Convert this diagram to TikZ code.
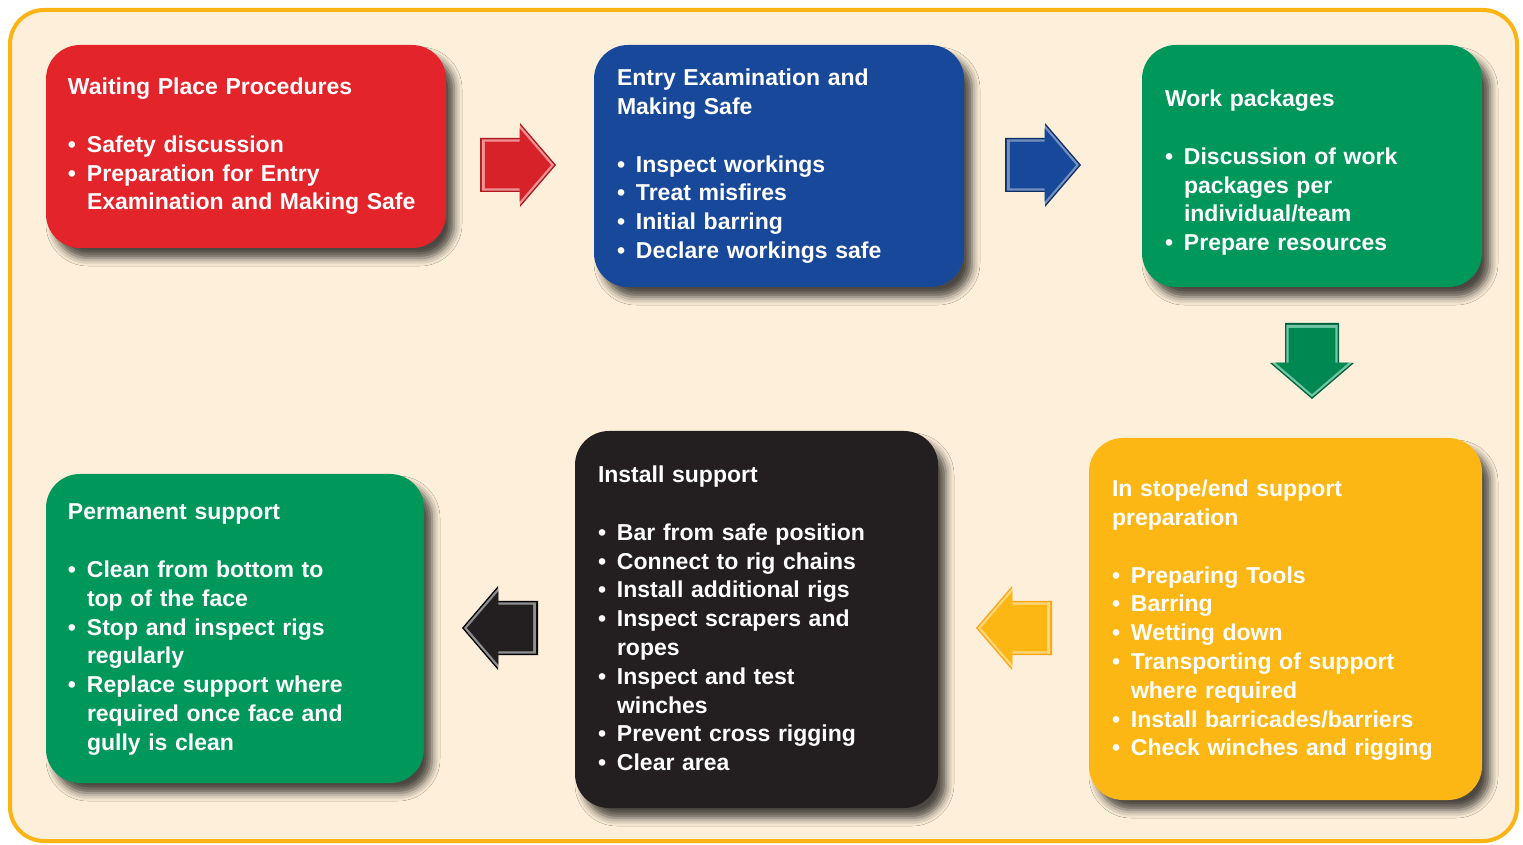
\documentclass[tikz,border=0pt]{standalone}
\usepackage{fontspec}
\setmainfont{Liberation Sans}
\usetikzlibrary{fit,shadows.blur}

\definecolor{cream}{HTML}{FDEFD9}
\definecolor{rimorange}{HTML}{FCB415}
\definecolor{wpred}{HTML}{E3242B}
\definecolor{wpblue}{HTML}{18489A}
\definecolor{wpgreen}{HTML}{00975B}
\definecolor{wpyellow}{HTML}{FDB714}
\definecolor{wpblack}{HTML}{231F20}

\newcommand\bitem{\par\hangindent=9.5pt\hangafter=1\noindent\makebox[9.5pt][l]{\textbullet}}
\newcommand\gap{\par\vspace{14.4pt}}

\tikzset{
  panel/.style={rounded corners=17pt, inner sep=0pt,
    blur shadow={shadow xshift=4pt, shadow yshift=-5pt, shadow blur radius=4pt, shadow opacity=70}},
  paneltext/.style={anchor=north west, inner sep=0pt, text=white, align=left,
    text width=#1, font=\fontsize{11.5}{14.4}\selectfont\bfseries},
  pics/blockarrow/.style n args={3}{code={
    \fill[#2] (-38,-27) -- (2,-27) -- (2,-42) -- (38,0)
      -- (2,42) -- (2,27) -- (-38,27) -- cycle;
    \fill[#3, scale=0.95] (-38,-27) -- (2,-27) -- (2,-42) -- (38,0)
      -- (2,42) -- (2,27) -- (-38,27) -- cycle;
    \fill[#1, scale=0.87] (-38,-27) -- (2,-27) -- (2,-42) -- (38,0)
      -- (2,42) -- (2,27) -- (-38,27) -- cycle;
  }}
}

\begin{document}
\begin{tikzpicture}[x=0.5pt, y=-0.5pt]

\useasboundingbox (0,0) rectangle (1523,845);

% Frame
\draw[rimorange, fill=cream, line width=2pt, rounded corners=17pt] (10,10) rectangle (1517,841);

% Panels
\node[panel, fill=wpred,    fit={(46,45) (446,248)}]    (wait)    {};
\node[panel, fill=wpblue,   fit={(594,45) (964,287)}]   (entry)   {};
\node[panel, fill=wpgreen,  fit={(1142,45) (1482,287)}] (work)    {};
\node[panel, fill=wpyellow, fit={(1089,438) (1482,800)}] (prep)   {};
\node[panel, fill=wpblack,  fit={(575,431) (938,808)}]  (install) {};
\node[panel, fill=wpgreen,  fit={(46,474) (424,783)}]   (perm)    {};

% Panel texts
\node[paneltext=185pt] (waittxt) at ([shift={(22,33)}]wait.north west) {Waiting Place Procedures\gap
  \bitem Safety discussion
  \bitem Preparation for Entry\newline Examination and Making Safe\par};

\node[paneltext=170pt] (entrytxt) at ([shift={(23,24)}]entry.north west) {Entry Examination and\newline Making Safe\gap
  \bitem Inspect workings
  \bitem Treat misfires
  \bitem Initial barring
  \bitem Declare workings safe\par};

\node[paneltext=150pt] (worktxt) at ([shift={(23,45)}]work.north west) {Work packages\gap
  \bitem Discussion of work\newline packages per\newline individual/team
  \bitem Prepare resources\par};

\node[paneltext=180pt] (preptxt) at ([shift={(23,42)}]prep.north west) {In stope/end support\newline preparation\gap
  \bitem Preparing Tools
  \bitem Barring
  \bitem Wetting down
  \bitem Transporting of support\newline where required
  \bitem Install barricades/barriers
  \bitem Check winches and rigging\par};

\node[paneltext=160pt] (installtxt) at ([shift={(23,35)}]install.north west) {Install support\gap
  \bitem Bar from safe position
  \bitem Connect to rig chains
  \bitem Install additional rigs
  \bitem Inspect scrapers and\newline ropes
  \bitem Inspect and test\newline winches
  \bitem Prevent cross rigging
  \bitem Clear area\par};

\node[paneltext=170pt] (permtxt) at ([shift={(22,30)}]perm.north west) {Permanent support\gap
  \bitem Clean from bottom to\newline top of the face
  \bitem Stop and inspect rigs\newline regularly
  \bitem Replace support where\newline required once face and\newline gully is clean\par};

% Block arrows
\pic at (518,165) {blockarrow={wpred!95!black}{wpred!75!black}{wpred!50!white}};
\pic at (1043,165) {blockarrow={wpblue}{wpblue!65!black}{wpblue!60!white}};
\pic[rotate=-90] at (1312,361) {blockarrow={wpgreen!90!black}{wpgreen!65!black}{wpgreen!55!white}};
\pic[rotate=180] at (1014,628) {blockarrow={wpyellow}{wpyellow!90!red}{wpyellow!55!white}};
\pic[rotate=180] at (500,628) {blockarrow={wpblack}{black}{wpblack!50!white}};

\end{tikzpicture}
\end{document}
